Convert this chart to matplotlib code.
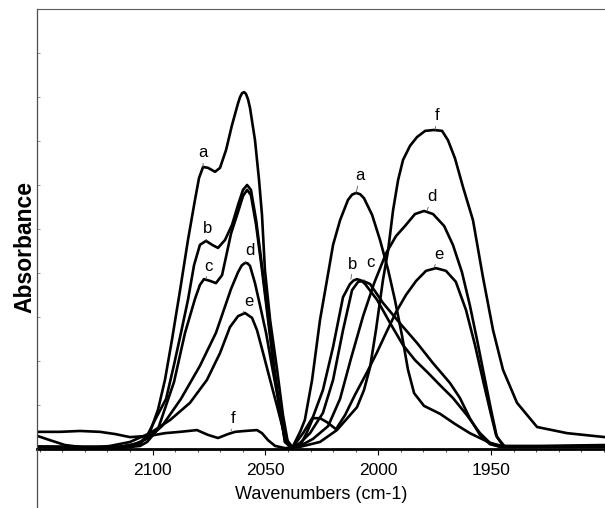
import matplotlib.pyplot as plt
from matplotlib.lines import Line2D
from matplotlib.ticker import FixedLocator, MultipleLocator, NullFormatter

plt.rcParams["font.family"] = ["Liberation Sans", "DejaVu Sans"]

a_wn = [2151.2, 2132.1, 2114.4, 2105.5, 2101.1, 2097.6, 2094.5, 2091.4, 2087.8, 2084.3, 2081.2, 2079.4,
        2077.6, 2075.4, 2072.3, 2070.1, 2067.4, 2064.8, 2062.1, 2061.2, 2060.3, 2059.4, 2058.6, 2057.7,
        2056.8, 2054.6, 2052.8, 2051.5, 2050.2, 2047.9, 2044.8, 2042.2, 2040.0, 2038.2, 2034.6, 2032.5,
        2029.3, 2025.8, 2022.7, 2020.0, 2016.9, 2013.4, 2011.6, 2009.8, 2008.0, 2006.3, 2002.7, 1999.2,
        1995.6, 1992.6, 1989.5, 1986.8, 1984.1, 1979.7, 1972.6, 1966.0, 1959.4, 1950.5, 1943.8, 1899.5]
a_abs = [0.005, 0.005, 0.005, 0.014, 0.039, 0.089, 0.157, 0.248, 0.361, 0.475, 0.566, 0.616,
         0.641, 0.639, 0.630, 0.639, 0.680, 0.736, 0.786, 0.800, 0.809, 0.811, 0.807, 0.795,
         0.775, 0.702, 0.611, 0.532, 0.407, 0.293, 0.180, 0.077, 0.014, 0.002, 0.039, 0.066,
         0.157, 0.293, 0.384, 0.464, 0.520, 0.566, 0.578, 0.582, 0.579, 0.570, 0.532, 0.475,
         0.407, 0.339, 0.259, 0.180, 0.127, 0.098, 0.080, 0.057, 0.036, 0.014, 0.005, 0.005]

b_wn = [2151.2, 2114.4, 2105.5, 2102.4, 2098.9, 2094.0, 2090.5, 2087.4, 2084.3, 2081.6, 2079.0, 2076.3,
        2073.6, 2071.0, 2067.9, 2064.8, 2062.1, 2059.9, 2058.1, 2056.4, 2054.1, 2051.5, 2048.8, 2046.2,
        2043.5, 2041.3, 2038.2, 2033.3, 2028.9, 2024.5, 2020.0, 2015.6, 2012.5, 2010.9, 2009.4, 2007.6,
        2005.8, 2000.5, 1994.7, 1989.0, 1983.7, 1977.9, 1972.6, 1966.9, 1960.7, 1954.9, 1950.5, 1946.0,
        1899.5]
b_abs = [0.005, 0.005, 0.011, 0.030, 0.066, 0.114, 0.191, 0.264, 0.339, 0.418, 0.464, 0.473,
         0.464, 0.457, 0.475, 0.509, 0.555, 0.589, 0.600, 0.589, 0.520, 0.416, 0.302, 0.189,
         0.089, 0.016, 0.002, 0.036, 0.073, 0.134, 0.232, 0.345, 0.375, 0.383, 0.386, 0.383,
         0.375, 0.339, 0.286, 0.236, 0.202, 0.173, 0.145, 0.116, 0.077, 0.036, 0.014, 0.005,
         0.007]

c_wn = [2151.2, 2114.4, 2105.5, 2102.4, 2097.6, 2090.5, 2085.6, 2081.2, 2079.0, 2077.2, 2074.5, 2071.9,
        2069.2, 2065.2, 2062.1, 2059.9, 2058.1, 2056.4, 2054.1, 2051.5, 2048.8, 2046.2, 2043.5, 2041.3,
        2038.2, 2034.6, 2030.2, 2024.5, 2020.0, 2015.6, 2011.6, 2008.9, 2006.7, 2003.6, 1997.9, 1990.4,
        1982.8, 1975.7, 1968.2, 1963.8, 1959.4, 1954.9, 1950.5, 1946.0, 1899.5]
c_abs = [0.005, 0.002, 0.007, 0.016, 0.045, 0.152, 0.264, 0.341, 0.373, 0.386, 0.382, 0.377,
         0.395, 0.490, 0.539, 0.575, 0.589, 0.577, 0.509, 0.407, 0.293, 0.184, 0.084, 0.016,
         0.002, 0.014, 0.036, 0.082, 0.157, 0.270, 0.361, 0.380, 0.382, 0.375, 0.332, 0.286,
         0.241, 0.195, 0.150, 0.116, 0.070, 0.032, 0.011, 0.005, 0.005]

d_wn = [2151.2, 2123.3, 2110.0, 2102.4, 2095.8, 2087.4, 2079.0, 2071.9, 2065.2, 2062.1, 2060.5, 2059.0,
        2057.9, 2056.8, 2054.6, 2052.4, 2049.7, 2047.1, 2044.4, 2041.3, 2038.2, 2034.6, 2028.9, 2022.2,
        2016.9, 2012.1, 2006.7, 2001.8, 1996.5, 1992.1, 1988.1, 1983.7, 1979.7, 1975.7, 1970.8, 1966.9,
        1962.9, 1959.4, 1956.2, 1953.1, 1950.0, 1947.4, 1943.8, 1928.3, 1899.5]
d_abs = [0.005, 0.002, 0.007, 0.023, 0.052, 0.114, 0.189, 0.264, 0.364, 0.402, 0.417, 0.423,
         0.422, 0.416, 0.377, 0.327, 0.264, 0.189, 0.114, 0.023, 0.005, 0.007, 0.023, 0.052,
         0.114, 0.205, 0.302, 0.377, 0.445, 0.484, 0.507, 0.534, 0.541, 0.534, 0.507, 0.464,
         0.402, 0.327, 0.248, 0.168, 0.089, 0.027, 0.005, 0.005, 0.007]

e_wn = [2151.2, 2145.4, 2138.8, 2127.7, 2118.8, 2110.0, 2101.1, 2092.2, 2083.4, 2075.9, 2070.1, 2065.7,
        2062.1, 2059.0, 2055.9, 2053.7, 2051.0, 2047.9, 2044.4, 2041.3, 2038.2, 2034.6, 2031.5, 2028.9,
        2025.8, 2022.7, 2018.7, 2014.7, 2010.3, 2004.9, 2000.5, 1996.5, 1992.1, 1987.7, 1983.2, 1978.8,
        1974.4, 1970.0, 1965.6, 1961.1, 1957.1, 1953.6, 1950.5, 1947.8, 1944.7, 1928.3, 1899.5]
e_abs = [0.030, 0.020, 0.009, 0.002, 0.007, 0.016, 0.036, 0.066, 0.105, 0.157, 0.218, 0.277,
         0.302, 0.309, 0.298, 0.270, 0.218, 0.157, 0.089, 0.027, 0.005, 0.007, 0.039, 0.070,
         0.070, 0.061, 0.045, 0.077, 0.123, 0.175, 0.220, 0.264, 0.311, 0.350, 0.382, 0.405,
         0.411, 0.405, 0.380, 0.316, 0.236, 0.157, 0.089, 0.032, 0.007, 0.007, 0.009]

f_wn = [2151.2, 2141.0, 2132.1, 2123.3, 2116.6, 2110.0, 2101.1, 2094.5, 2087.8, 2080.3, 2075.4, 2071.0,
        2066.5, 2063.4, 2059.0, 2053.7, 2051.5, 2048.8, 2045.7, 2041.3, 2034.6, 2025.8, 2018.3, 2012.5,
        2009.4, 2006.3, 2003.6, 2001.0, 1997.9, 1995.6, 1993.4, 1991.2, 1989.0, 1985.9, 1982.8, 1979.2,
        1975.3, 1971.7, 1969.1, 1966.0, 1962.4, 1958.0, 1953.6, 1949.1, 1944.7, 1938.5, 1929.6, 1916.3,
        1899.5]
f_abs = [0.039, 0.039, 0.041, 0.039, 0.034, 0.027, 0.030, 0.036, 0.039, 0.043, 0.032, 0.025,
         0.034, 0.039, 0.041, 0.043, 0.036, 0.020, 0.007, 0.002, 0.005, 0.016, 0.043, 0.077,
         0.095, 0.134, 0.186, 0.270, 0.384, 0.452, 0.543, 0.611, 0.657, 0.689, 0.709, 0.723,
         0.725, 0.723, 0.702, 0.661, 0.595, 0.520, 0.391, 0.270, 0.180, 0.105, 0.050, 0.036,
         0.027]

# curve labels: name, wavenumber and absorbance of the point they mark
label_names = ["a", "b", "c", "d", "e", "f", "a", "b", "c", "d", "e", "f"]
label_wn = [2077.6, 2076.3, 2076.3, 2059.0, 2059.9, 2065.2, 2009.8, 2012.1, 2006.3, 1978.4, 1975.3, 1974.8]
label_abs = [0.641, 0.473, 0.386, 0.423, 0.309, 0.041, 0.582, 0.386, 0.382, 0.541, 0.411, 0.725]
label_offsets = [(0, 14), (2, 12), (2, 13), (5, 12), (6, 12), (2, 12),
                 (4, 17), (2, 15), (6, 18), (5, 14), (5, 14), (2, 14)]

x_ticks = [2100, 2050, 2000, 1950]

fig = plt.figure(figsize=(6.05, 5.08), dpi=100)
ax = fig.add_axes([37 / 605, 59 / 508, 568 / 605, 440 / 508])

for wn, ab in [(a_wn, a_abs), (b_wn, b_abs), (c_wn, c_abs), (d_wn, d_abs), (e_wn, e_abs), (f_wn, f_abs)]:
    ax.plot(wn, ab, color="black", lw=1.9, solid_joinstyle="round")

for name, wn, ab, (dx, dy) in zip(label_names, label_wn, label_abs, label_offsets):
    ax.annotate(
        name,
        xy=(wn, ab),
        xytext=(dx, dy),
        textcoords="offset pixels",
        ha="center",
        va="center",
        fontsize=12,
        arrowprops=dict(arrowstyle="-", lw=0.6, color="0.35", shrinkA=5, shrinkB=0),
    )

ax.set_xlim(2151.2, 1899.5)
ax.set_ylim(0, 1)
ax.xaxis.set_major_locator(FixedLocator(x_ticks))
ax.xaxis.set_minor_locator(MultipleLocator(10))
ax.yaxis.set_major_locator(MultipleLocator(0.1))
ax.yaxis.set_major_formatter(NullFormatter())
ax.tick_params(axis="x", which="major", length=4, width=0.8, pad=6, labelsize=12.5)
ax.tick_params(axis="x", which="minor", length=2, width=0.5)
ax.tick_params(axis="y", which="major", direction="in", length=2, width=0.5, colors="0.4")

ax.spines["right"].set_visible(False)
ax.spines["top"].set_linewidth(0.8)
ax.spines["top"].set_color("0.35")
ax.spines["left"].set_linewidth(0.9)
ax.spines["left"].set_color("0.3")
ax.spines["bottom"].set_linewidth(2.0)

ax.set_xlabel("Wavenumbers (cm-1)", fontsize=13, labelpad=6)
ax.set_ylabel("Absorbance", fontsize=16.5, fontweight="bold", va="center")
ax.yaxis.set_label_coords(-0.021, 0.46)

fig.add_artist(Line2D([37 / 605, 37 / 605], [0, 59 / 508], transform=fig.transFigure, color="0.3", lw=0.9))

fig.savefig("out.png", dpi=100)
